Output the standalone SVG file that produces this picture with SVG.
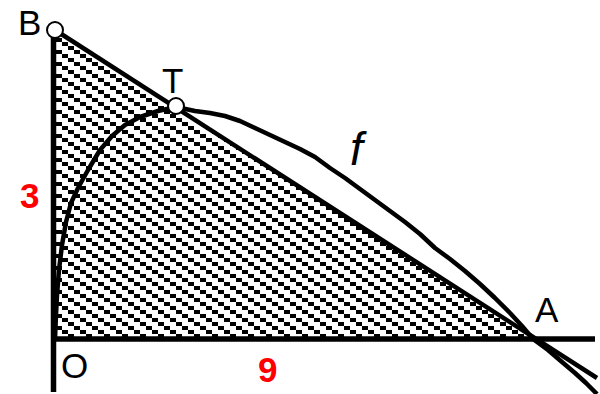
<svg xmlns="http://www.w3.org/2000/svg" width="600" height="394" viewBox="0 0 600 394">
  <style>
    .lbl { font-family: "Liberation Sans", Arial, sans-serif; font-size: 35px; fill: #000; }
    .num { font-family: "Liberation Sans", Arial, sans-serif; font-size: 35px; font-weight: bold; fill: #ff0000; }
    .fn { font-family: "Liberation Sans", Arial, sans-serif; font-size: 46px; font-style: italic; fill: #000; }
    .axis { stroke: #000; stroke-width: 5.5; fill: none; }
    .ln { stroke: #000; stroke-width: 4.5; fill: none; stroke-linejoin: round; }
    .pt { fill: #fff; stroke: #000; stroke-width: 2; }
  </style>
  <defs>
    <pattern id="hatch" x="14" y="10" width="18" height="12" patternUnits="userSpaceOnUse">
      <rect x="0" y="0" width="6" height="4" fill="#000" shape-rendering="crispEdges"/>
      <rect x="6" y="4" width="6" height="4" fill="#000" shape-rendering="crispEdges"/>
      <rect x="12" y="8" width="6" height="4" fill="#000" shape-rendering="crispEdges"/>
    </pattern>
  </defs>
  <rect width="600" height="394" fill="#fff"/>

  <g id="region">
    <polygon points="54,30 54,339 533,339" fill="url(#hatch)"/>
  </g>

  <g id="connectors">
    <line class="axis" x1="53.5" y1="28" x2="53.5" y2="392"/>
    <line class="axis" x1="51" y1="339" x2="595" y2="339"/>
    <path id="tangent" class="ln" d="M55,30 L597,378"/>
    <path id="curve-f" class="ln" d="M55,339 L56,315 L57,295 L59,270 L62,245 L66,222 L71,203 L78,188 L88,170 L100,150 L112,136 L125,125 L140,117 L158,111 L176,107 L195,111 L210,113 L225,116 L240,121 L255,128 L270,135 L285,142 L300,149 L315,157 L330,168 L345,178 L360,189 L375,200 L390,211 L405,222 L420,234 L435,248 L450,259 L465,271 L480,284 L495,298 L510,313 L522,326 L533,339 L548,350 L562,362 L575,373 L586,383 L597,394"/>
  </g>

  <g id="node-B">
    <circle class="pt" cx="55" cy="30" r="8"/>
    <text class="lbl" x="18" y="35">B</text>
  </g>
  <g id="node-T">
    <circle class="pt" cx="176" cy="106" r="8"/>
    <text class="lbl" x="162" y="93">T</text>
  </g>
  <g id="node-A">
    <text class="lbl" x="535" y="322">A</text>
  </g>
  <g id="node-O">
    <text class="lbl" x="61" y="378">O</text>
  </g>
  <g id="label-f">
    <text class="fn" x="350" y="165">f</text>
  </g>
  <g id="label-3">
    <text class="num" x="20" y="208">3</text>
  </g>
  <g id="label-9">
    <text class="num" x="258" y="382">9</text>
  </g>
</svg>
